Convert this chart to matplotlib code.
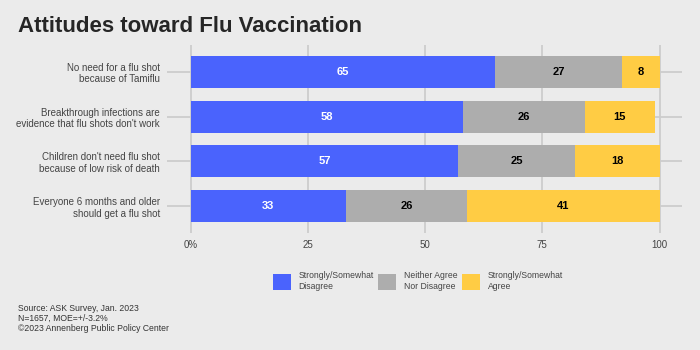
import matplotlib.pyplot as plt
from matplotlib.patches import Patch

plt.rcParams['font.family'] = ['Liberation Sans', 'DejaVu Sans']

statements = [
    "No need for a flu shot\nbecause of Tamiflu",
    "Breakthrough infections are\nevidence that flu shots don't work",
    "Children don't need flu shot\nbecause of low risk of death",
    "Everyone 6 months and older\nshould get a flu shot",
]
disagree = [65, 58, 57, 33]
neither = [27, 26, 25, 26]
agree = [8, 15, 18, 41]
series_names = ["Strongly/Somewhat\nDisagree", "Neither Agree\nNor Disagree",
                "Strongly/Somewhat\nAgree"]
tick_values = [0, 25, 50, 75, 100]
tick_labels = ["0%", "25", "50", "75", "100"]

colors = ["#4a63fd", "#adadad", "#ffcc44"]
text_colors = ["white", "black", "black"]
bg = "#ebebeb"

fig = plt.figure(figsize=(7, 3.5), dpi=100, facecolor=bg)
ax = fig.add_axes([167 / 700, 1 - 233 / 350, (682 - 167) / 700, (233 - 45) / 350])
ax.set_facecolor(bg)

ypos = list(range(len(statements)))
left = [0] * len(statements)
for vals, col, tcol in zip([disagree, neither, agree], colors, text_colors):
    ax.barh(ypos, vals, left=left, height=0.72, color=col, zorder=2)
    for y, v, l in zip(ypos, vals, left):
        ax.text(l + v / 2, y, str(v), ha="center", va="center", color=tcol,
                fontsize=8, fontweight="bold", zorder=3)
    left = [a + b for a, b in zip(left, vals)]

ax.set_xlim(-5.1, 104.8)
ax.set_ylim(3.6, -0.6)
ax.set_xticks(tick_values)
ax.set_xticklabels(tick_labels)
ax.set_yticks(ypos)
ax.set_yticklabels(statements)
ax.grid(True, color="#cccccc", linewidth=1.3, zorder=0)
ax.set_axisbelow(True)
for s in ax.spines.values():
    s.set_visible(False)
ax.tick_params(axis="both", length=0, labelsize=7, labelcolor="#444444")
ax.tick_params(axis="y", pad=5)
ax.tick_params(axis="x", pad=5)

handles = [Patch(facecolor=c, edgecolor="none") for c in colors]
fig.legend(handles, series_names, loc="center", bbox_to_anchor=(418 / 700, 1 - 281 / 350),
           ncol=3, frameon=False, fontsize=6.2, labelcolor="#444444",
           handlelength=2.1, handleheight=2.6, handletextpad=0.9, columnspacing=0.5)

fig.text(18 / 700, 1 - 27 / 350, "Attitudes toward Flu Vaccination", fontsize=16,
         fontweight="bold", color="#262626", va="center", ha="left")
fig.text(18 / 700, 1 - 318.5 / 350,
         "Source: ASK Survey, Jan. 2023\nN=1657, MOE=+/-3.2%\n\u00a92023 Annenberg Public Policy Center",
         fontsize=6.2, color="#333333", va="center", ha="left", linespacing=1.2)

fig.savefig("out.png", dpi=100, facecolor=bg)
